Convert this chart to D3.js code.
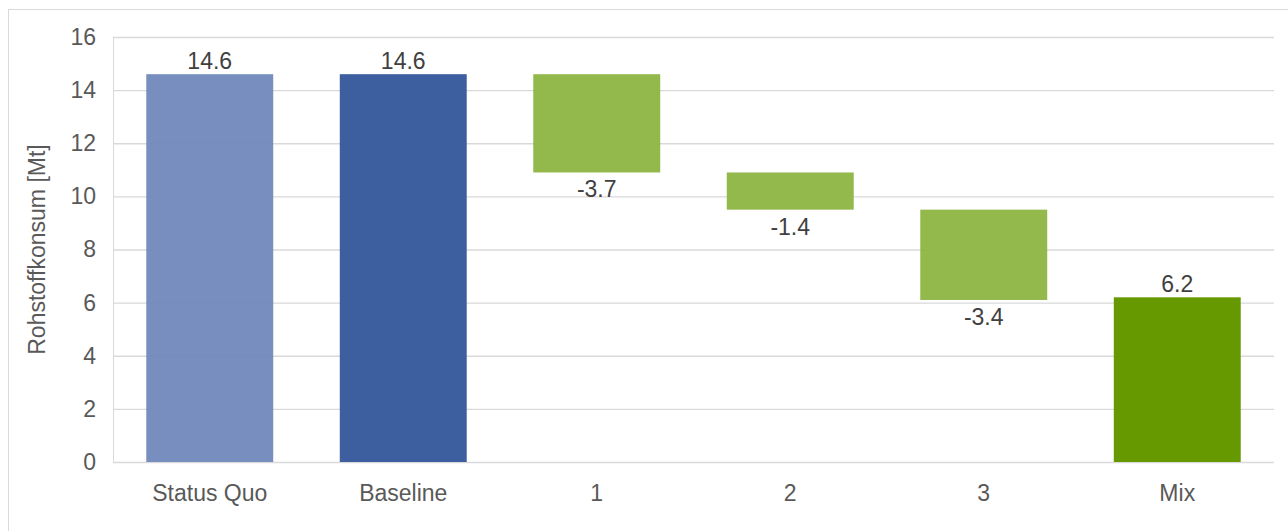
<!DOCTYPE html>
<html>
<head>
<meta charset="utf-8">
<script src="https://cdn.jsdelivr.net/npm/d3@7"></script>
<style>
  html, body { margin: 0; padding: 0; background: #fff; }
  svg { display: block; font-family: "Liberation Sans", Arial, sans-serif; }
</style>
</head>
<body>
<svg id="chart" width="1288" height="531"></svg>
<script>
// Waterfall of raw-material consumption
const categories = ["Status Quo", "Baseline", "1", "2", "3", "Mix"];
const values = [14.6, 14.6, -3.7, -1.4, -3.4, 6.2];
const kinds = ["total", "total", "step", "step", "step", "total"];
const yTicks = [0, 2, 4, 6, 8, 10, 12, 14, 16];
const colors = ["#7088bb", "#3d5f9f", "#8fb545", "#8fb545", "#8fb545", "#669900"];
const opacities = [0.95, 1, 0.96, 0.96, 0.96, 1];

const svg = d3.select("#chart");
const W = 1288, H = 531;
const m = { left: 113, right: 14, top: 37, bottom: 69 };
const FS = 23;
const FONT = "'Liberation Sans', Arial, sans-serif";

// outer frame
svg.append("rect")
  .attr("x", 8.5).attr("y", 9.5)
  .attr("width", W + 10).attr("height", H)
  .attr("fill", "none").attr("stroke", "#d9d9d9").attr("stroke-width", 1);

const x = d3.scaleBand().domain(categories)
  .range([m.left, W - m.right]).paddingInner(0.344).paddingOuter(0.172);
const y = d3.scaleLinear().domain([0, 16]).range([H - m.bottom, m.top]);

// running level for the step bars
let level = 0;
const bars = categories.map((c, i) => {
  let lo, hi;
  if (kinds[i] === "total") { lo = 0; hi = values[i]; level = values[i]; }
  else { hi = level; lo = level + values[i]; level = lo; }
  return { c, v: values[i], lo, hi, color: colors[i], op: opacities[i] };
});

// grid
const grid = svg.append("g")
  .attr("transform", `translate(${m.left},0)`)
  .call(d3.axisLeft(y).tickValues(yTicks).tickSize(-(W - m.right - m.left)).tickFormat(""));
grid.select(".domain").remove();
grid.selectAll("line").attr("stroke", "#d9d9d9").attr("stroke-width", 1.3);

// left axis line
svg.append("line")
  .attr("x1", m.left + 0.5).attr("x2", m.left + 0.5)
  .attr("y1", y(16)).attr("y2", y(0))
  .attr("stroke", "#d9d9d9");

// y tick labels
const yAx = svg.append("g")
  .attr("transform", `translate(${m.left - 17},0)`)
  .call(d3.axisLeft(y).tickValues(yTicks).tickSize(0).tickPadding(0));
yAx.select(".domain").remove();
yAx.selectAll("text")
  .attr("fill", "#595959").attr("font-size", FS).attr("font-family", FONT);

// x tick labels
const xAx = svg.append("g")
  .attr("transform", `translate(0,${y(0)})`)
  .call(d3.axisBottom(x).tickSize(0).tickPadding(23));
xAx.select(".domain").remove();
xAx.selectAll("text")
  .attr("fill", "#595959").attr("font-size", FS).attr("font-family", FONT);

// y axis title
svg.append("text")
  .attr("transform", `translate(45,${(y(0) + y(16)) / 2}) rotate(-90)`)
  .attr("text-anchor", "middle")
  .attr("fill", "#595959").attr("font-size", FS)
  .text("Rohstoffkonsum [Mt]");

// bars
svg.append("g").selectAll("rect").data(bars).join("rect")
  .attr("x", d => x(d.c))
  .attr("width", x.bandwidth())
  .attr("y", d => y(d.hi))
  .attr("height", d => y(d.lo) - y(d.hi))
  .attr("fill", d => d.color)
  .attr("fill-opacity", d => d.op);

// value labels
const fmt = v => d3.format(".1f")(v).replace("\u2212", "-");
svg.append("g").selectAll("text").data(bars).join("text")
  .attr("x", d => x(d.c) + x.bandwidth() / 2)
  .attr("y", d => d.v >= 0 ? y(d.hi) - 5 : y(d.lo) + 25)
  .attr("text-anchor", "middle")
  .attr("fill", "#404040").attr("font-size", FS)
  .text(d => fmt(d.v));
</script>
</body>
</html>
